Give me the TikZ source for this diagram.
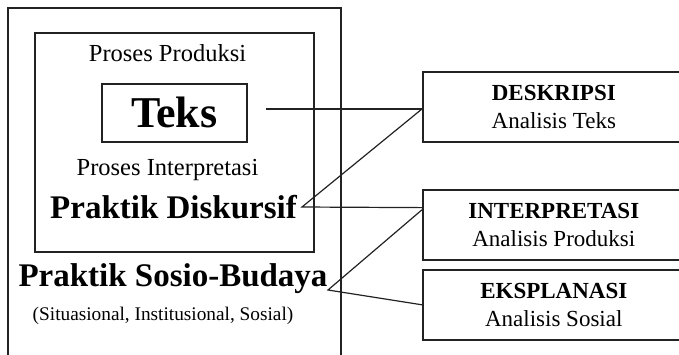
\documentclass[tikz,border=0pt]{standalone}
\usepackage{fontspec}
\setmainfont{Liberation Serif}
\usepackage{tikz}
\usetikzlibrary{calc}
\definecolor{myline}{HTML}{222222}
\tikzset{
frame/.style={
draw=myline,
line width=1.6pt,
inner sep=0pt
},
sidebox/.style={
draw=myline,
line width=1.6pt,
minimum width=262pt,
minimum height=70pt,
anchor=north west,
align=center,
font=\fontsize{23}{28}\selectfont,
inner sep=0pt
},
plainlabel/.style={
font=\fontsize{24.5}{28}\selectfont,
anchor=base,
inner sep=0pt
},
boldlabel/.style={
font=\bfseries\fontsize{33}{36}\selectfont,
anchor=base,
inner sep=0pt
},
link/.style={
line width=1.2pt,
draw=myline
}
}

\begin{document}
\begin{tikzpicture}[x=1pt,y=-1pt]
\useasboundingbox (0,0) rectangle (679,354);

% left: nested boxes
\node[frame, anchor=north west, minimum width=333pt, minimum height=360pt] (outerbox) at (7,7) {};
\node[frame, anchor=north west, minimum width=279pt, minimum height=219pt] (innerbox) at (34,32) {};
\node[frame, anchor=north west, minimum width=145pt, minimum height=58pt,
  font=\bfseries\fontsize{44}{46}\selectfont] (teksbox) at (101,83) {Teks};

\node[plainlabel] (lblprod) at (167.5,61) {Proses Produksi};
\node[plainlabel] (lblinterp) at (167.5,175) {Proses Interpretasi};
\node[boldlabel] (diskursif) at (173.5,218) {Praktik Diskursif};
\node[boldlabel] (sosiobudaya) at (173,286) {Praktik Sosio-Budaya};
\node[font=\fontsize{19.3}{22}\selectfont, anchor=base, inner sep=0pt] (konteks) at (163,320)
  {(Situasional, Institusional, Sosial)};

% right: analysis boxes
\node[sidebox] (deskripsi) at (422,71) {\textbf{DESKRIPSI}\\Analisis Teks};
\node[sidebox] (interpretasi) at (422,189) {\textbf{INTERPRETASI}\\Analisis Produksi};
\node[sidebox] (eksplanasi) at (422,269) {\textbf{EKSPLANASI}\\Analisis Sosial};

% connectors
\coordinate (deskin) at ($(deskripsi.north west)!0.53!(deskripsi.south west)$);
\coordinate (teksout) at (266,0 |- deskin);
\coordinate (disktip) at (302,207);
\coordinate (sosiotip) at (328,290);
\coordinate (interpin) at ($(interpretasi.north west)!0.26!(interpretasi.south west)$);
\coordinate (interpup) at ($(interpretasi.north west)!0.29!(interpretasi.south west)$);

\draw[link] (teksout) -- (deskin);
\draw[link] (deskin) -- (disktip) -- (interpin);
\draw[link] (interpup) -- (sosiotip) -- (eksplanasi.west);

\end{tikzpicture}
\end{document}
